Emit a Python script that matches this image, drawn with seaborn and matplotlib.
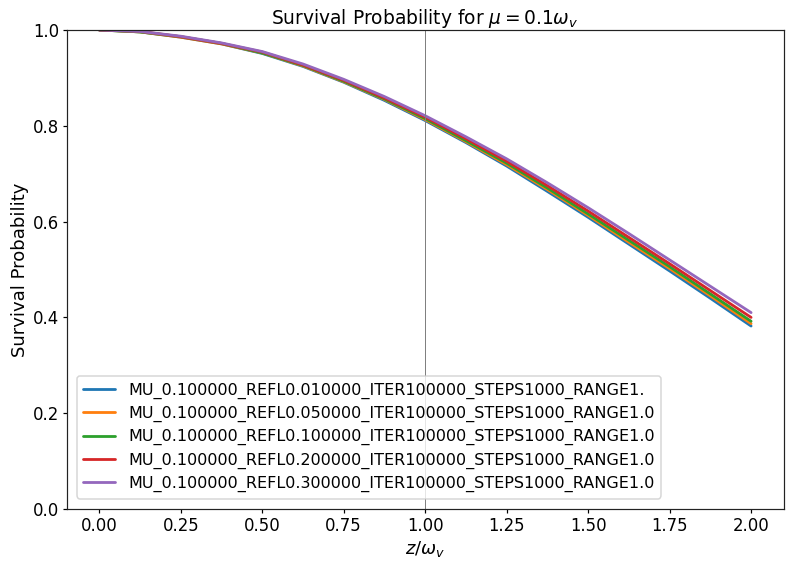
import pandas as pd
import matplotlib
matplotlib.use("Agg")
import matplotlib.pyplot as plt
import seaborn as sns

# values
z = [0.0, 0.125, 0.25, 0.375, 0.5, 0.625, 0.75, 0.875, 1.0,
     1.125, 1.25, 1.375, 1.5, 1.625, 1.75, 1.875, 2.0]

refl_001 = [1.000, 0.996, 0.985, 0.971, 0.951, 0.924, 0.891, 0.853, 0.811,
            0.765, 0.716, 0.663, 0.609, 0.553, 0.497, 0.440, 0.382]
refl_005 = [1.000, 0.996, 0.985, 0.971, 0.952, 0.925, 0.892, 0.855, 0.813,
            0.767, 0.719, 0.667, 0.613, 0.557, 0.502, 0.445, 0.387]
refl_010 = [1.000, 0.996, 0.986, 0.972, 0.952, 0.926, 0.893, 0.856, 0.815,
            0.769, 0.722, 0.670, 0.616, 0.561, 0.506, 0.449, 0.392]
refl_020 = [1.000, 0.997, 0.986, 0.972, 0.954, 0.927, 0.895, 0.858, 0.818,
            0.773, 0.726, 0.675, 0.622, 0.567, 0.512, 0.456, 0.400]
refl_030 = [1.000, 0.997, 0.987, 0.973, 0.955, 0.929, 0.897, 0.861, 0.821,
            0.777, 0.731, 0.681, 0.629, 0.575, 0.520, 0.465, 0.410]

labels = [
    "MU_0.100000_REFL0.010000_ITER100000_STEPS1000_RANGE1.",
    "MU_0.100000_REFL0.050000_ITER100000_STEPS1000_RANGE1.0",
    "MU_0.100000_REFL0.100000_ITER100000_STEPS1000_RANGE1.0",
    "MU_0.100000_REFL0.200000_ITER100000_STEPS1000_RANGE1.0",
    "MU_0.100000_REFL0.300000_ITER100000_STEPS1000_RANGE1.0",
]
series = [refl_001, refl_005, refl_010, refl_020, refl_030]


def build_frame():
    frames = []
    for lab, vals in zip(labels, series):
        frames.append(pd.DataFrame({"z": z, "p": vals, "run": lab}))
    return pd.concat(frames, ignore_index=True)


def main():
    df = build_frame()
    sns.set_theme(style="ticks", context="talk")
    plt.rcParams.update({"text.color": "black", "axes.labelcolor": "black",
                         "xtick.color": "black", "ytick.color": "black",
                         "axes.edgecolor": "#222222",
                         "xtick.major.size": 4, "ytick.major.size": 4,
                         "xtick.major.width": 1.2, "ytick.major.width": 1.2,
                         "axes.linewidth": 1.2})
    plt.rcParams['font.family'] = ['DejaVu Sans']

    fig = plt.figure(figsize=(794 / 72, 569 / 72), dpi=72)
    ax = fig.add_axes([0.084, 0.1054, 0.903, 0.8419])
    sns.lineplot(data=df, x="z", y="p", hue="run", palette="tab10",
                 linewidth=2.8, ax=ax)
    ax.axvline(1.0, color="gray", linewidth=1)
    ax.set_ylim(0, 1)
    ax.set_xticks([0.0, 0.25, 0.5, 0.75, 1.0, 1.25, 1.5, 1.75, 2.0])
    ax.set_xlabel(r"$z/\omega_v$")
    ax.set_ylabel("Survival Probability")
    ax.set_title(r"Survival Probability for $\mu = 0.1\omega_v$", fontsize=18.6)
    ax.legend(loc="lower left", title=None, fontsize=16, labelspacing=0.45,
              borderaxespad=0.65)
    fig.savefig("out.png", dpi=72)


if __name__ == "__main__":
    main()
